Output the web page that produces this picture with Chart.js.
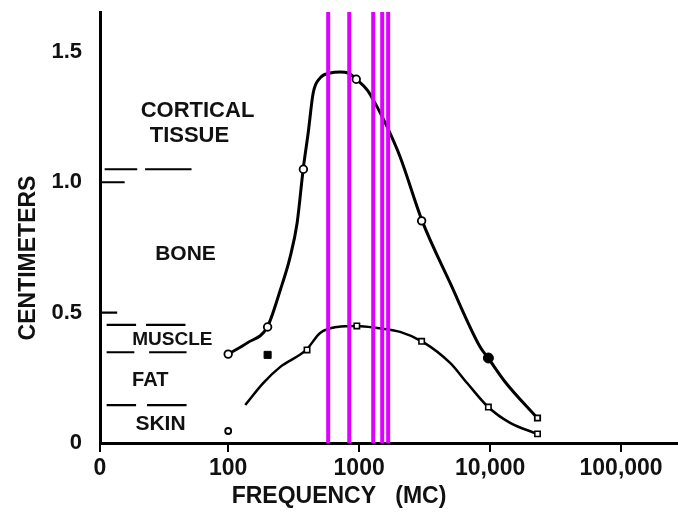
<!DOCTYPE html>
<html>
<head>
<meta charset="utf-8">
<script src="https://cdn.jsdelivr.net/npm/chart.js@4.4.0/dist/chart.umd.min.js"></script>
<style>
  html, body { margin: 0; padding: 0; background: #fff; overflow: hidden; }
  #wrap { width: 678px; height: 527px; position: relative; }
</style>
</head>
<body>
<div id="wrap"><canvas id="depthChart"></canvas></div>
<script>
// ---- Dữ liệu ----
// trục X: tần số (MC), thang log; "0" là gốc trục
const xTickValues = [10.5, 100, 1000, 10000, 100000];
const xTickLabels = ['0', '100', '1000', '10,000', '100,000'];
const yTickValues = [0, 0.5, 1.0, 1.5];
const yTickLabels = ['0', '0.5', '1.0', '1.5'];

// đường cong trên (mô vỏ / xương)
const upperFreq = [100, 140, 199, 250, 297, 336, 374, 408, 446, 504, 601, 716, 824, 966, 1151, 1371, 1636, 2056, 3027, 4950, 8395, 9660, 13030, 22870];
const upperCm   = [0.341, 0.384, 0.445, 0.587, 0.713, 0.844, 1.051, 1.189, 1.343, 1.40, 1.419, 1.423, 1.419, 1.392, 1.354, 1.289, 1.212, 1.097, 0.852, 0.614, 0.368, 0.326, 0.234, 0.096];

// đường cong dưới (cơ)
const lowerFreq = [135, 185, 250, 394, 504, 679, 966, 1371, 2056, 3083, 4950, 6670, 9660, 14220, 22870];
const lowerCm   = [0.146, 0.230, 0.292, 0.357, 0.422, 0.445, 0.449, 0.441, 0.426, 0.387, 0.307, 0.230, 0.138, 0.077, 0.035];

// các điểm đo
const upperMarkFreq = [100, 200, 375, 950, 3000, 23000];
const upperMarkCm   = [0.341, 0.445, 1.05, 1.395, 0.852, 0.096];
const lowerMarkFreq = [400, 960, 3000, 9700, 23000];
const lowerMarkCm   = [0.357, 0.449, 0.39, 0.138, 0.035];
const filledMarkFreq = [9700, 200];
const filledMarkCm   = [0.326, 0.338];
const strayMarkFreq = [100];
const strayMarkCm   = [0.046];

// các vạch tần số màu tím
const magentaFreq = [580, 840, 1280, 1500, 1665];
const magentaTop = 1.653;

// ranh giới các lớp mô (mỗi đoạn: [từ, đến], độ sâu)
const layerDepth = [1.05, 0.453, 0.348, 0.145];
const layerSegments = [
  [[11.4, 20.2], [23.2, 52.5]],
  [[11.8, 19.8], [23.6, 47.2]],
  [[11.8, 19.2], [24.9, 48.1]],
  [[11.8, 19.8], [24.0, 48.1]]
];
// vạch chia ngắn bên trong trục Y
const innerTickCm = [1.0, 0.5];
const innerTickEnd = [16.2, 14.2];

// nhãn các lớp mô
const tissueLabels = ['CORTICAL', 'TISSUE', 'BONE', 'MUSCLE', 'FAT', 'SKIN'];
const tissueFreq   = [58.3, 50.6, 47.2, 37.5, 25.4, 30.4];
const tissueCm     = [1.272, 1.176, 0.724, 0.395, 0.238, 0.073];

const xTitle = 'FREQUENCY   (MC)';
const yTitle = 'CENTIMETERS';

// ---- Dựng dữ liệu cho Chart.js ----
function toPoints(xs, ys) {
    return xs.map((x, i) => ({ x: x, y: ys[i] }));
}

const magentaData = [];
magentaFreq.forEach(f => {
    magentaData.push({ x: f, y: 0 }, { x: f, y: magentaTop }, { x: f, y: null });
});

const layerData = [];
layerSegments.forEach((segs, i) => {
    segs.forEach(s => {
        layerData.push({ x: s[0], y: layerDepth[i] }, { x: s[1], y: layerDepth[i] }, { x: s[1], y: null });
    });
});
innerTickCm.forEach((v, i) => {
    layerData.push({ x: xTickValues[0], y: v }, { x: innerTickEnd[i], y: v }, { x: innerTickEnd[i], y: null });
});

const FONT = "'Liberation Sans', 'DejaVu Sans', sans-serif";
// cỡ chữ riêng cho từng nhãn
const labelSizes = [22, 22, 21, 19, 20, 21];

// plugin vẽ chữ (nhãn mô, tiêu đề trục)
const textPlugin = {
    id: 'tissueText',
    afterDatasetsDraw(chart) {
        const c = chart.ctx;
        const xs = chart.scales.x, ys = chart.scales.y;
        c.save();
        c.fillStyle = '#111';
        c.textAlign = 'center';
        c.textBaseline = 'middle';
        tissueLabels.forEach((t, i) => {
            c.font = 'bold ' + labelSizes[i] + 'px ' + FONT;
            c.fillText(t, xs.getPixelForValue(tissueFreq[i]), ys.getPixelForValue(tissueCm[i]));
        });
        // tiêu đề trục X
        c.font = 'bold 23px ' + FONT;
        c.fillText(xTitle, 339, 497);
        // tiêu đề trục Y
        c.translate(29, 258);
        c.rotate(-Math.PI / 2);
        c.fillText(yTitle, 0, 0);
        c.restore();
    }
};

const ctx = document.getElementById('depthChart');

new Chart(ctx, {
    type: 'line',
    data: {
        datasets: [
            {
                data: magentaData,
                borderColor: '#e000ff',
                borderWidth: 4,
                pointRadius: 0,
                tension: 0,
                spanGaps: false,
                order: 0
            },
            {
                data: toPoints(upperFreq, upperCm),
                borderColor: '#000',
                borderWidth: 3,
                pointRadius: 0,
                cubicInterpolationMode: 'monotone',
                order: 3
            },
            {
                data: toPoints(lowerFreq, lowerCm),
                borderColor: '#000',
                borderWidth: 2.5,
                pointRadius: 0,
                cubicInterpolationMode: 'monotone',
                order: 3
            },
            {
                data: layerData,
                borderColor: '#000',
                borderWidth: 2.2,
                pointRadius: 0,
                tension: 0,
                spanGaps: false,
                order: 3
            },
            {
                data: toPoints(upperMarkFreq, upperMarkCm),
                showLine: false,
                pointStyle: c => c.dataIndex === upperMarkFreq.length - 1 ? 'rect' : 'circle',
                pointRadius: 3.8,
                pointBackgroundColor: '#fff',
                pointBorderColor: '#000',
                pointBorderWidth: 1.8,
                order: 2
            },
            {
                data: toPoints(lowerMarkFreq, lowerMarkCm),
                showLine: false,
                pointStyle: 'rect',
                pointRadius: 3.8,
                pointBackgroundColor: '#fff',
                pointBorderColor: '#000',
                pointBorderWidth: 1.6,
                order: 2
            },
            {
                data: toPoints(filledMarkFreq, filledMarkCm),
                showLine: false,
                pointStyle: c => c.dataIndex === 0 ? 'circle' : 'rect',
                pointRadius: 5,
                pointBackgroundColor: '#000',
                pointBorderColor: '#000',
                pointBorderWidth: 1,
                order: 2
            },
            {
                data: toPoints(strayMarkFreq, strayMarkCm),
                showLine: false,
                pointStyle: 'circle',
                pointRadius: 3,
                pointBackgroundColor: '#fff',
                pointBorderColor: '#000',
                pointBorderWidth: 1.8,
                order: 2
            }
        ]
    },
    options: {
        responsive: true,
        maintainAspectRatio: false,
        animation: false,
        layout: { autoPadding: false, padding: { top: 12, right: 0, left: 0, bottom: 0 } },
        plugins: {
            legend: { display: false },
            tooltip: { enabled: false }
        },
        scales: {
            x: {
                type: 'logarithmic',
                min: xTickValues[0],
                max: 272000,
                afterBuildTicks: axis => {
                    axis.ticks = xTickValues.map(v => ({ value: v }));
                },
                afterFit: axis => {
                    axis.height = 84;
                    axis.paddingLeft = 0;
                    axis.paddingRight = 0;
                },
                ticks: {
                    autoSkip: false,
                    maxRotation: 0,
                    color: '#111',
                    padding: 3,
                    font: { size: 23, weight: 'bold', family: FONT },
                    callback: (value, i) => xTickLabels[i]
                },
                grid: {
                    display: true,
                    drawOnChartArea: false,
                    drawTicks: true,
                    tickLength: 9,
                    lineWidth: 2,
                    color: '#000'
                },
                border: { display: true, color: '#000', width: 3 }
            },
            y: {
                type: 'linear',
                min: 0,
                max: magentaTop,
                afterBuildTicks: axis => {
                    axis.ticks = yTickValues.map(v => ({ value: v }));
                },
                afterFit: axis => {
                    axis.width = 100;
                    axis.paddingTop = 0;
                    axis.paddingBottom = 0;
                },
                ticks: {
                    color: '#111',
                    padding: 10,
                    font: { size: 22, weight: 'bold', family: FONT },
                    callback: (value, i) => yTickLabels[i]
                },
                grid: { display: false },
                border: { display: true, color: '#000', width: 3 }
            }
        }
    },
    plugins: [textPlugin]
});
</script>
</body>
</html>
